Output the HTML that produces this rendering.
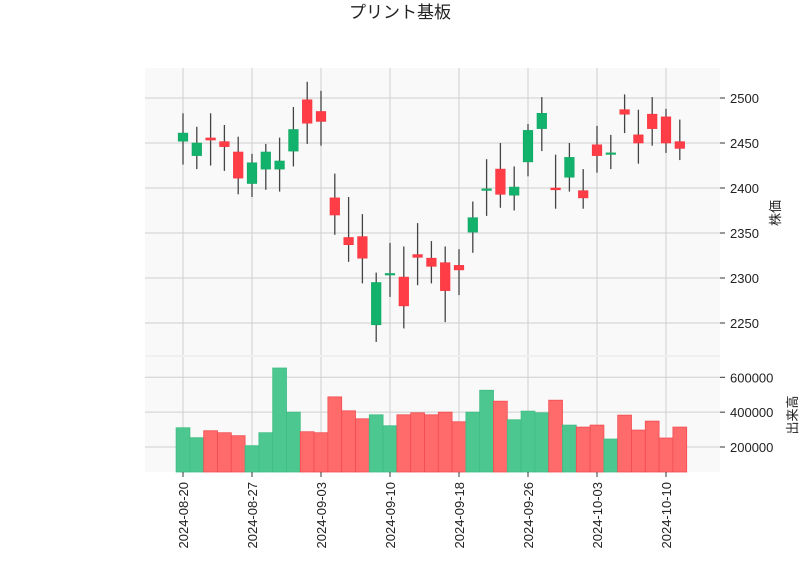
<!DOCTYPE html>
<html><head><meta charset="utf-8"><style>
body{margin:0;background:#fff;width:800px;height:575px;overflow:hidden}
svg{display:block;font-family:"Liberation Sans","Noto Sans CJK JP",sans-serif}
</style></head><body>
<svg id="chart" width="800" height="575">
<text x="400" y="18" text-anchor="middle" font-size="17" fill="#222">プリント基板</text>
<rect x="145" y="68" width="575" height="287" fill="#f9f9f9"/>
<rect x="145" y="357" width="575" height="115" fill="#f9f9f9"/>
<g id="grid"></g><g id="vol"></g><g id="candles"></g><g id="axes"></g>
<text transform="translate(780,213) rotate(-90)" text-anchor="middle" font-size="13" fill="#222">株価</text>
<text transform="translate(797,415) rotate(-90)" text-anchor="middle" font-size="13" fill="#222">出来高</text>
</svg>
<script>
const dates=["08-20","08-21","08-22","08-23","08-26","08-27","08-28","08-29","08-30","09-02","09-03","09-04","09-05","09-06","09-09","09-10","09-11","09-12","09-13","09-17","09-18","09-19","09-20","09-24","09-25","09-26","09-27","09-30","10-01","10-02","10-03","10-04","10-07","10-08","10-09","10-10","10-11"];
const opens=[2452,2436,2455.6,2451.5,2440,2405,2421,2421,2441,2498,2485,2389,2345,2346,2248,2304,2301,2326,2322,2317,2314,2351,2398,2421,2392,2429,2466,2400,2412,2397,2448,2438,2487,2459,2482,2479,2451.5];
const closes=[2461,2450,2453.3,2446,2411,2428,2440,2430,2465,2472,2474,2370,2337,2322,2295,2305,2269,2323,2313,2286,2309,2367,2399,2393,2401,2464,2483,2398,2434,2389,2436,2439,2482,2450,2466,2450,2444];
const highs=[2483,2468,2483,2470,2457,2438,2449,2456,2490,2518,2508,2416,2390,2371,2306,2339,2335,2361,2341,2335,2332,2385,2432,2450,2424,2471,2501,2437,2450,2421,2469,2459,2504,2487,2501,2488,2476];
const lows=[2426,2421,2425,2419,2393,2390,2398,2396,2424,2449,2447,2348,2318,2294,2229,2279,2244,2292,2294,2251,2281,2328,2369,2378,2375,2413,2441,2377,2396,2377,2417,2421,2461,2427,2447,2439,2431];
const volumes=[310500,253300,293300,281900,264800,207600,281900,653300,400000,287600,281900,487600,407600,361900,384800,321900,384800,396200,384800,400000,344800,400000,525700,462900,356200,405700,396200,468600,325700,314300,325700,245700,382900,297100,348600,251400,314300];
const priceTicks=[2250,2300,2350,2400,2450,2500];
const volTicks=[200000,400000,600000];
const dateTickIdx=[0,5,10,15,20,25,30,35];

const NS="http://www.w3.org/2000/svg";
const xS=i=>183+i*13.8;
const yP=v=>98+(2500-v)*0.9;
const yV=v=>447-(v-200000)*34.85/200000;
const step=13.8;
function mk(tag,attrs,parent){const e=document.createElementNS(NS,tag);for(const k in attrs)e.setAttribute(k,attrs[k]);parent.appendChild(e);return e;}
const grid=document.getElementById('grid'),vol=document.getElementById('vol'),cg=document.getElementById('candles'),ax=document.getElementById('axes');

priceTicks.forEach(t=>{
  const y=yP(t);
  const l=mk('line',{x1:145,x2:720,y1:y,y2:y,stroke:'#d0d0d0','stroke-width':1},grid);
  
  
  mk('line',{x1:720,x2:725,y1:y,y2:y,stroke:'#333'},ax);
  const tx=mk('text',{x:730,y:y+5,'font-size':13,fill:'#222'},ax);tx.textContent=t;
  
  
});
volTicks.forEach(t=>{
  const y=yV(t);
  const l=mk('line',{x1:145,x2:720,y1:y,y2:y,stroke:'#d0d0d0','stroke-width':1},grid);
  
  
  mk('line',{x1:720,x2:725,y1:y,y2:y,stroke:'#333'},ax);
  const tx=mk('text',{x:730,y:y+5,'font-size':13,fill:'#222'},ax);tx.textContent=t;
  
  
});
dateTickIdx.forEach(i=>{
  const x=xS(i);
  mk('line',{x1:x,x2:x,y1:68,y2:355,stroke:'#d0d0d0'},grid);
  mk('line',{x1:x,x2:x,y1:357,y2:472,stroke:'#d0d0d0'},grid);
  mk('line',{x1:x,x2:x,y1:472,y2:477,stroke:'#333'},ax);
  const tx=mk('text',{transform:`translate(${x+5},482) rotate(-90)`,'text-anchor':'end','font-size':13,fill:'#222'},ax);
  tx.textContent='2024-'+dates[i];
  
  
});
mk('line',{x1:145,x2:720,y1:356,y2:356,stroke:'#e0e0e0'},grid);

volumes.forEach((v,i)=>{
  const up=closes[i]>=opens[i];
  const y=yV(v);
  const r=mk('rect',{x:xS(i)-step/2,y:y,width:step,height:472-y,fill:up?'#4cc790':'#ff6b6b',stroke:up?'#3dbd84':'#f24b50','stroke-width':0.8},vol);
  
  
});
opens.forEach((o,i)=>{
  const c=closes[i],up=c>=o,x=xS(i);
  const w=mk('line',{x1:x,x2:x,y1:yP(highs[i]),y2:yP(lows[i]),stroke:'#444','stroke-width':1.3},cg);
  
  
  const top=yP(Math.max(o,c)),h=Math.max(1.5,yP(Math.min(o,c))-top);
  const b=mk('rect',{x:x-4.8,y:top,width:9.6,height:h,fill:up?'#13b26c':'#ff3d47',stroke:up?'#0fa863':'#f5333e','stroke-width':0.6},cg);
  
  
});
</script>
</body></html>
